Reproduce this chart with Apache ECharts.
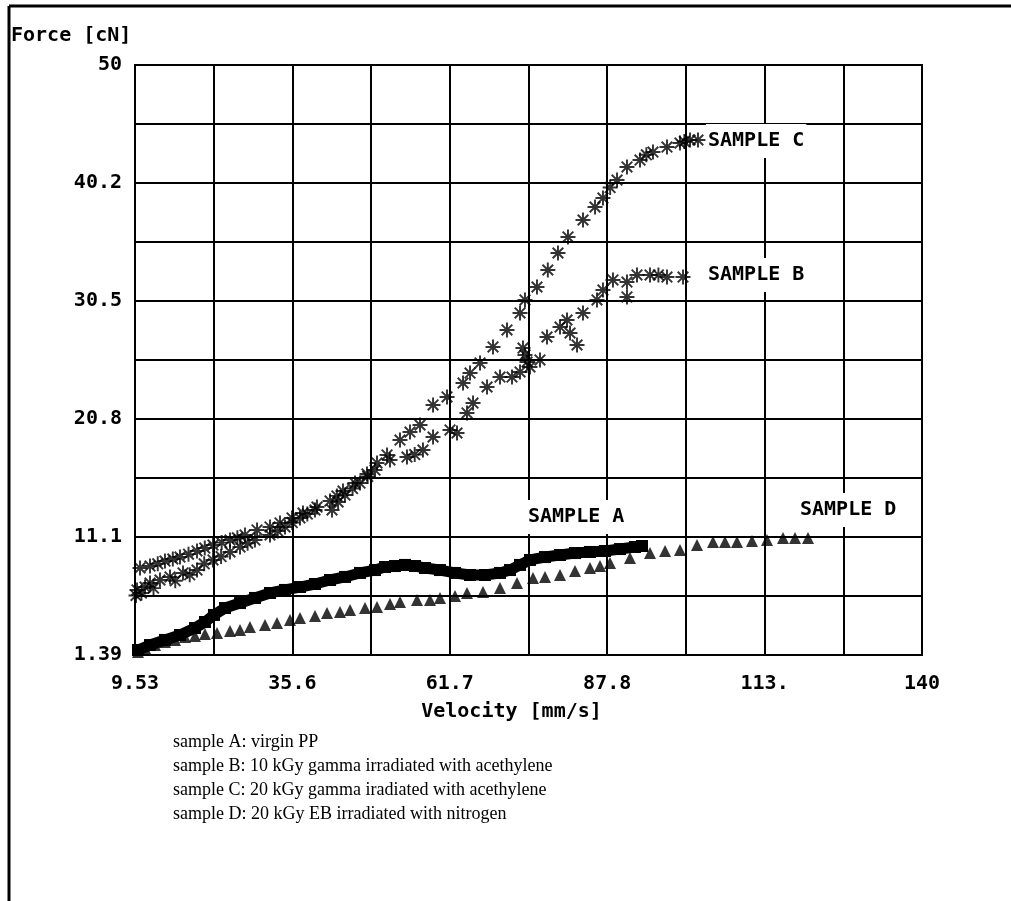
<!DOCTYPE html>
<html>
<head>
<meta charset="utf-8">
<title>Force vs Velocity</title>
<script src="https://cdn.jsdelivr.net/npm/echarts@6/dist/echarts.min.js"></script>
<style>
  html, body { margin: 0; padding: 0; background: #fff; }
  #chart { width: 1011px; height: 901px; }
</style>
</head>
<body>
<div id="chart"></div>
<script>
// axis ranges and printed tick labels (labels on every 2nd grid line)
const xMin = 9.53, xMax = 140;
const yMin = 1.39, yMax = 50;
const xTickLabels = ['9.53', '35.6', '61.7', '87.8', '113.', '140'];
const yTickLabels = ['1.39', '11.1', '20.8', '30.5', '40.2', '50'];

// sample A: virgin PP (squares)
const sampleA = [
  [10.03, 1.80], [12.02, 2.21], [14.50, 2.63], [16.99, 3.04], [19.48, 3.61], [21.13, 4.11],
  [22.63, 4.69], [24.45, 5.26], [26.94, 5.67], [29.42, 6.09], [31.91, 6.50], [34.40, 6.75],
  [36.88, 6.99], [39.37, 7.24], [41.86, 7.57], [44.34, 7.82], [46.83, 8.15], [49.32, 8.39],
  [50.98, 8.64], [52.63, 8.72], [54.29, 8.81], [55.95, 8.72], [57.61, 8.56], [60.09, 8.39],
  [62.58, 8.15], [65.07, 7.98], [67.55, 7.98], [70.04, 8.15], [71.70, 8.39], [73.36, 8.81],
  [75.01, 9.22], [77.50, 9.46], [79.99, 9.63], [82.47, 9.79], [84.96, 9.88], [87.45, 9.96],
  [89.93, 10.12], [92.42, 10.29], [93.58, 10.37]
];

// sample B: 10 kGy gamma + acethylene (asterisks)
const sampleB = [
  [9.70, 6.30], [9.86, 6.75], [10.60, 6.50], [11.19, 6.99], [12.02, 7.32], [12.60, 6.90],
  [13.67, 7.57], [15.33, 7.82], [16.20, 7.50], [17.49, 8.15], [18.60, 8.00], [19.81, 8.39],
  [21.00, 8.90], [22.46, 9.22], [23.80, 9.50], [25.28, 9.88], [26.94, 10.29], [28.20, 10.60],
  [29.42, 10.86], [31.91, 11.28], [33.20, 11.60], [34.40, 11.94], [35.60, 12.30], [36.88, 12.68],
  [38.10, 13.00], [39.37, 13.34], [42.19, 13.34], [43.20, 14.00], [44.34, 14.57], [45.60, 15.10],
  [46.83, 15.56], [48.10, 16.10], [49.32, 16.63], [51.80, 17.46], [54.62, 17.70], [55.90, 17.90],
  [57.27, 18.28], [58.94, 19.35], [61.75, 19.93], [62.91, 19.68], [64.57, 21.33], [65.57, 22.15],
  [67.89, 23.47], [70.04, 24.29], [72.03, 24.29], [73.36, 24.71], [75.01, 25.12], [76.67, 25.70],
  [73.85, 26.68], [74.18, 26.11], [74.52, 25.53], [77.83, 27.59], [79.99, 28.41], [81.15, 28.99],
  [81.65, 27.92], [82.81, 26.93], [83.80, 29.57], [86.12, 30.64], [87.11, 31.46], [88.77, 32.29],
  [91.09, 32.12], [91.09, 30.89], [92.75, 32.70], [94.91, 32.70], [96.30, 32.70], [97.72, 32.53],
  [100.38, 32.53]
];

// sample C: 20 kGy gamma + acethylene (asterisks)
const sampleC = [
  [10.36, 8.56], [12.02, 8.72], [13.30, 8.90], [14.50, 9.13], [15.80, 9.30], [16.99, 9.46],
  [18.40, 9.70], [19.81, 9.96], [21.10, 10.20], [22.46, 10.45], [23.90, 10.65], [25.28, 10.86],
  [26.50, 11.05], [27.77, 11.28], [29.76, 11.69], [31.91, 11.94], [33.57, 12.27], [35.56, 12.68],
  [37.38, 13.09], [39.70, 13.58], [41.86, 14.08], [43.00, 14.50], [44.01, 14.90], [46.00, 15.56],
  [47.99, 16.30], [49.65, 17.21], [51.31, 17.87], [53.46, 19.10], [55.12, 19.76], [56.78, 20.34],
  [58.94, 21.99], [61.26, 22.65], [63.91, 23.80], [65.07, 24.62], [66.73, 25.45], [68.88, 26.77],
  [71.20, 28.17], [73.36, 29.57], [74.18, 30.64], [76.17, 31.71], [77.97, 33.11], [79.65, 34.51],
  [81.31, 35.83], [83.80, 37.23], [85.79, 38.30], [87.11, 39.04], [88.30, 39.90], [89.44, 40.52],
  [91.09, 41.60], [93.25, 42.17], [94.30, 42.60], [95.40, 42.83], [97.72, 43.24], [99.88, 43.57],
  [100.60, 43.70], [101.54, 43.82], [102.86, 43.82]
];

// sample D: 20 kGy EB + nitrogen (triangles)
const sampleD = [
  [10.03, 1.64], [11.19, 1.97], [12.85, 2.21], [14.50, 2.46], [16.16, 2.63], [17.82, 2.87],
  [19.48, 2.96], [21.13, 3.12], [23.12, 3.20], [25.28, 3.37], [26.94, 3.45], [28.59, 3.70],
  [31.08, 3.86], [33.07, 4.03], [35.23, 4.27], [36.88, 4.44], [39.37, 4.60], [41.36, 4.85],
  [43.52, 4.93], [45.18, 5.10], [47.66, 5.26], [49.65, 5.34], [51.80, 5.59], [53.46, 5.76],
  [56.28, 5.92], [58.44, 5.92], [60.09, 6.09], [62.58, 6.25], [64.57, 6.50], [67.22, 6.58],
  [70.04, 6.91], [72.86, 7.32], [75.51, 7.73], [77.50, 7.82], [79.99, 7.98], [82.47, 8.31],
  [84.96, 8.56], [86.62, 8.72], [88.28, 8.97], [91.59, 9.38], [94.91, 9.79], [97.40, 9.96],
  [99.88, 10.04], [102.70, 10.45], [105.35, 10.70], [107.34, 10.70], [109.33, 10.70], [111.82, 10.78],
  [114.30, 10.86], [116.96, 11.03], [118.95, 11.03], [121.10, 11.03]
];

const legendLines = [
  'sample A: virgin PP',
  'sample B: 10 kGy gamma irradiated with acethylene',
  'sample C: 20 kGy gamma iradiated with acethylene',
  'sample D: 20 kGy EB irradiated with nitrogen'
];

const xStep = (xMax - xMin) / 10;
const yStep = (yMax - yMin) / 10;
const monoFont = '"DejaVu Sans Mono", monospace';

// 8 spoke asterisk built from 4 thin bars
function asteriskPath() {
  let d = '';
  const w = 0.13;
  for (let k = 0; k < 4; k++) {
    const a = k * Math.PI / 4;
    const c = Math.cos(a), s = Math.sin(a);
    const pts = [[-1, -w], [1, -w], [1, w], [-1, w]].map(([u, v]) => [u * c - v * s + 1, u * s + v * c + 1]);
    d += 'M' + pts.map(p => p[0].toFixed(3) + ' ' + p[1].toFixed(3)).join(' L') + ' Z ';
  }
  return 'path://' + d;
}
const asterisk = asteriskPath();

const myChart = echarts.init(document.getElementById('chart'));

const sampleLabel = (text, left, top) => ({
  type: 'text',
  left: left,
  top: top,
  z: 100,
  style: {
    text: text,
    font: 'bold 20px ' + monoFont,
    fill: '#000',
    backgroundColor: '#fff',
    padding: [7, 2]
  }
});

const legendText = legendLines.map((t, i) => ({
  type: 'text',
  left: 173,
  top: 733 + i * 24,
  style: { text: t, font: '18px "Liberation Serif", serif', fill: '#000' }
}));

const option = {
  animation: false,
  backgroundColor: '#fff',
  grid: {
    left: 135, top: 65, width: 787, height: 590,
    show: true, borderColor: '#000', borderWidth: 2, containLabel: false
  },
  xAxis: {
    type: 'value',
    min: xMin, max: xMax, interval: xStep,
    axisLine: { show: false },
    axisTick: { show: false },
    splitLine: { show: true, lineStyle: { color: '#000', width: 2 } },
    axisLabel: {
      margin: 19,
      color: '#000',
      fontFamily: monoFont,
      fontWeight: 'bold',
      fontSize: 20,
      showMaxLabel: true,
      formatter: (v) => {
        const k = Math.round((v - xMin) / xStep);
        return k % 2 === 0 ? xTickLabels[k / 2] : '';
      }
    },
    name: 'Velocity [mm/s]',
    nameLocation: 'middle',
    nameGap: 47,
    nameTextStyle: { color: '#000', fontFamily: monoFont, fontWeight: 'bold', fontSize: 20, padding: [0, 34, 0, 0] }
  },
  yAxis: {
    type: 'value',
    min: yMin, max: yMax, interval: yStep,
    axisLine: { show: false },
    axisTick: { show: false },
    splitLine: { show: true, lineStyle: { color: '#000', width: 2 } },
    axisLabel: {
      margin: 13,
      color: '#000',
      fontFamily: monoFont,
      fontWeight: 'bold',
      fontSize: 20,
      showMaxLabel: true,
      formatter: (v) => {
        const k = Math.round((v - yMin) / yStep);
        return k % 2 === 0 ? yTickLabels[k / 2] : '';
      }
    }
  },
  graphic: [
    // picture frame (top and left edge)
    { type: 'line', shape: { x1: 9, y1: 6, x2: 1011, y2: 6 }, style: { stroke: '#000', lineWidth: 3 } },
    { type: 'line', shape: { x1: 9, y1: 6, x2: 9, y2: 901 }, style: { stroke: '#000', lineWidth: 3 } },
    { type: 'text', left: 11, top: 26, style: { text: 'Force [cN]', font: 'bold 20px ' + monoFont, fill: '#000' } },
    sampleLabel('SAMPLE C', 706, 124),
    sampleLabel('SAMPLE B', 706, 258),
    sampleLabel('SAMPLE A', 526, 500),
    sampleLabel('SAMPLE D', 798, 493)
  ].concat(legendText),
  series: [
    {
      name: 'sample A', type: 'line', data: sampleA,
      symbol: 'rect', symbolSize: 12, showAllSymbol: true,
      itemStyle: { color: '#000' },
      lineStyle: { color: '#000', width: 11 }
    },
    {
      name: 'sample B', type: 'scatter', data: sampleB,
      symbol: asterisk, symbolSize: 15, symbolKeepAspect: true,
      itemStyle: { color: '#000' }
    },
    {
      name: 'sample C', type: 'scatter', data: sampleC,
      symbol: asterisk, symbolSize: 15, symbolKeepAspect: true,
      itemStyle: { color: '#000' }
    },
    {
      name: 'sample D', type: 'scatter', data: sampleD,
      symbol: 'triangle', symbolSize: 12,
      itemStyle: { color: '#000' }
    }
  ]
};

myChart.setOption(option);
</script>
</body>
</html>
